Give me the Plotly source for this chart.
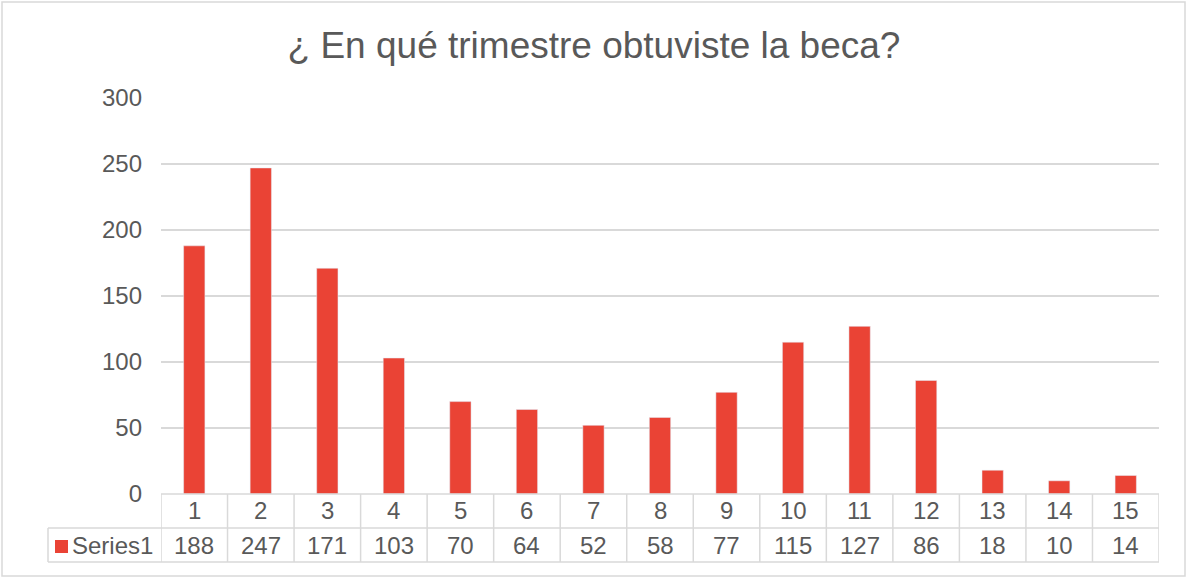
import plotly.graph_objects as go

# Datos
trimestres = [str(i) for i in range(1, 16)]
valores = [188, 247, 171, 103, 70, 64, 52, 58, 77, 115, 127, 86, 18, 10, 14]
serie = "Series1"
titulo = "¿ En qué trimestre obtuviste la beca?"

rojo = "#EA4335"
gris_texto = "#595959"
gris_linea = "#D9D9D9"
fuente = "Liberation Sans, Arial, sans-serif"

# Geometria en pixeles
W, H = 1188, 578
L, R, T, B = 161, 29, 98, 84
ph = H - T - B
pw = W - L - R


def py(y_px):
    # pixel vertical -> coordenada paper
    return (H - B - y_px) / ph


def px(x_px):
    return (x_px - L) / pw


fig = go.Figure()
fig.add_trace(go.Bar(x=list(range(1, 16)), y=valores, marker_color=rojo, name=serie,
                     hoverinfo="x+y"))

shapes = []
anns = []
n = len(trimestres)
linea = dict(color=gris_linea, width=1.5)

# lineas de la tabla
for i in range(n + 1):
    shapes.append(dict(type="line", xref="x", yref="paper", x0=i + 0.5, x1=i + 0.5,
                       y0=py(494), y1=py(562), line=linea))
shapes.append(dict(type="line", xref="paper", yref="paper", x0=0, x1=1, y0=py(494), y1=py(494), line=linea))
for yy in (528, 562):
    shapes.append(dict(type="line", xref="paper", yref="paper", x0=px(48), x1=1, y0=py(yy), y1=py(yy),
                       line=linea))
shapes.append(dict(type="line", xref="paper", yref="paper", x0=px(48), x1=px(48), y0=py(528), y1=py(562),
                   line=linea))
# clave de la leyenda
shapes.append(dict(type="rect", xref="paper", yref="paper", x0=px(55), x1=px(68), y0=py(540), y1=py(553),
                   fillcolor=rojo, line=dict(width=0)))
# borde del grafico
shapes.append(dict(type="rect", xref="paper", yref="paper", x0=px(2), x1=px(1185), y0=py(2), y1=py(576),
                   line=linea))

fnt = dict(size=24, color=gris_texto, family=fuente)
for i, (t, v) in enumerate(zip(trimestres, valores)):
    anns.append(dict(x=i + 1, y=py(511), xref="x", yref="paper", text=t, showarrow=False,
                     xanchor="center", yanchor="middle", font=fnt))
    anns.append(dict(x=i + 1, y=py(545), xref="x", yref="paper", text=str(v), showarrow=False,
                     xanchor="center", yanchor="middle", font=fnt))
anns.append(dict(x=px(70), y=py(545), xref="paper", yref="paper", text=serie, showarrow=False,
                 xanchor="left", yanchor="middle", font=fnt))

fig.update_layout(
    width=W, height=H,
    margin=dict(l=L, r=R, t=T, b=B),
    paper_bgcolor="white", plot_bgcolor="white",
    title=dict(text=titulo, x=0.5, xref="container", xanchor="center", y=1 - 45 / H, yanchor="middle",
               font=dict(size=37, color=gris_texto, family=fuente)),
    xaxis=dict(range=[0.5, 15.5], showticklabels=False, showgrid=False, zeroline=False,
               showline=False, ticks=""),
    yaxis=dict(range=[0, 300], dtick=50, showgrid=True, gridcolor=gris_linea, gridwidth=1.5,
               zeroline=False, showline=False, ticks="", ticklabelstandoff=18,
               tickfont=fnt),
    bargap=0.68,
    showlegend=False,
    shapes=shapes,
    annotations=anns,
)

# sin margen del body para que el grafico quede en (0, 0)
fig.write_html("out.html", config={"displayModeBar": False},
               post_script="document.body.style.margin='0';")
